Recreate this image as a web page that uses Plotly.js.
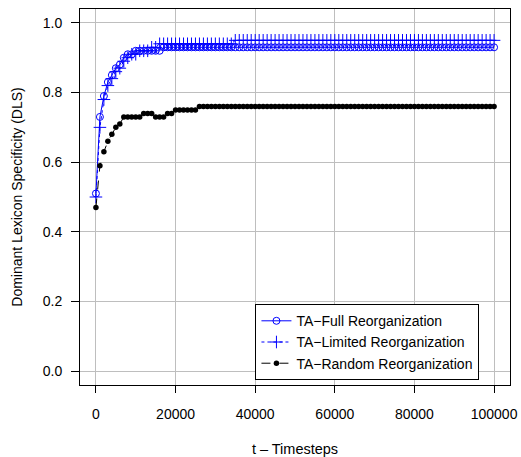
<!DOCTYPE html>
<html>
<head>
<meta charset="utf-8">
<script src="https://cdn.plot.ly/plotly-3.0.1.min.js"></script>
<style>html,body{margin:0;padding:0;background:#fff;}#chart{width:521px;height:457px;}</style>
</head>
<body>
<div id="chart"></div>
<script>
var timesteps = [
 0,1000,2000,3000,4000,5000,6000,7000,8000,9000,
 10000,11000,12000,13000,14000,15000,16000,17000,18000,19000,
 20000,21000,22000,23000,24000,25000,26000,27000,28000,29000,
 30000,31000,32000,33000,34000,35000,36000,37000,38000,39000,
 40000,41000,42000,43000,44000,45000,46000,47000,48000,49000,
 50000,51000,52000,53000,54000,55000,56000,57000,58000,59000,
 60000,61000,62000,63000,64000,65000,66000,67000,68000,69000,
 70000,71000,72000,73000,74000,75000,76000,77000,78000,79000,
 80000,81000,82000,83000,84000,85000,86000,87000,88000,89000,
 90000,91000,92000,93000,94000,95000,96000,97000,98000,99000,
 100000];

var fullReorg = [
 0.51,0.73,0.79,0.83,0.85,0.87,0.88,0.90,0.91,0.91,
 0.92,0.92,0.92,0.92,0.92,0.92,0.92,0.93,0.93,0.93,
 0.93,0.93,0.93,0.93,0.93,0.93,0.93,0.93,0.93,0.93,
 0.93,0.93,0.93,0.93,0.93,0.93,0.93,0.93,0.93,0.93,
 0.93,0.93,0.93,0.93,0.93,0.93,0.93,0.93,0.93,0.93,
 0.93,0.93,0.93,0.93,0.93,0.93,0.93,0.93,0.93,0.93,
 0.93,0.93,0.93,0.93,0.93,0.93,0.93,0.93,0.93,0.93,
 0.93,0.93,0.93,0.93,0.93,0.93,0.93,0.93,0.93,0.93,
 0.93,0.93,0.93,0.93,0.93,0.93,0.93,0.93,0.93,0.93,
 0.93,0.93,0.93,0.93,0.93,0.93,0.93,0.93,0.93,0.93,
 0.93];

var limitedReorg = [
 0.50,0.70,0.78,0.82,0.84,0.86,0.87,0.89,0.90,0.91,
 0.91,0.92,0.92,0.92,0.93,0.93,0.94,0.94,0.94,0.94,
 0.94,0.94,0.94,0.94,0.94,0.94,0.94,0.94,0.94,0.94,
 0.94,0.94,0.94,0.94,0.94,0.95,0.95,0.95,0.95,0.95,
 0.95,0.95,0.95,0.95,0.95,0.95,0.95,0.95,0.95,0.95,
 0.95,0.95,0.95,0.95,0.95,0.95,0.95,0.95,0.95,0.95,
 0.95,0.95,0.95,0.95,0.95,0.95,0.95,0.95,0.95,0.95,
 0.95,0.95,0.95,0.95,0.95,0.95,0.95,0.95,0.95,0.95,
 0.95,0.95,0.95,0.95,0.95,0.95,0.95,0.95,0.95,0.95,
 0.95,0.95,0.95,0.95,0.95,0.95,0.95,0.95,0.95,0.95,
 0.95];

var randomReorg = [
 0.47,0.59,0.63,0.66,0.68,0.70,0.71,0.73,0.73,0.73,
 0.73,0.73,0.74,0.74,0.74,0.73,0.73,0.73,0.74,0.74,
 0.75,0.75,0.75,0.75,0.75,0.75,0.76,0.76,0.76,0.76,
 0.76,0.76,0.76,0.76,0.76,0.76,0.76,0.76,0.76,0.76,
 0.76,0.76,0.76,0.76,0.76,0.76,0.76,0.76,0.76,0.76,
 0.76,0.76,0.76,0.76,0.76,0.76,0.76,0.76,0.76,0.76,
 0.76,0.76,0.76,0.76,0.76,0.76,0.76,0.76,0.76,0.76,
 0.76,0.76,0.76,0.76,0.76,0.76,0.76,0.76,0.76,0.76,
 0.76,0.76,0.76,0.76,0.76,0.76,0.76,0.76,0.76,0.76,
 0.76,0.76,0.76,0.76,0.76,0.76,0.76,0.76,0.76,0.76,
 0.76];

var seriesNames = ["TA\u2212Full Reorganization", "TA\u2212Limited Reorganization", "TA\u2212Random Reorganization"];
var xTicks = [0, 20000, 40000, 60000, 80000, 100000];
var yTicks = [0.0, 0.2, 0.4, 0.6, 0.8, 1.0];

var font = "Liberation Sans, Arial, sans-serif";

var traces = [
 {x: timesteps, y: fullReorg, name: seriesNames[0], type: "scatter", mode: "lines+markers",
  line: {color: "#0000ff", width: 1, dash: "solid"},
  marker: {symbol: "circle-open", size: 7, color: "#0000ff", line: {width: 1, color: "#0000ff"}}},
 {x: timesteps, y: limitedReorg, name: seriesNames[1], type: "scatter", mode: "lines+markers",
  line: {color: "#0000ff", width: 1, dash: "dot"},
  marker: {symbol: "cross-thin-open", size: 9, color: "#0000ff", line: {width: 1, color: "#0000ff"}}},
 {x: timesteps, y: randomReorg, name: seriesNames[2], type: "scatter", mode: "lines+markers",
  line: {color: "#000000", width: 1, dash: "dash"},
  marker: {symbol: "circle", size: 5.5, color: "#000000"}}
];

var layout = {
 width: 521, height: 457,
 margin: {l: 80, r: 11, t: 9, b: 72},
 paper_bgcolor: "#ffffff", plot_bgcolor: "#ffffff",
 font: {family: font, size: 14, color: "#000"},
 showlegend: true,
 legend: {x: 0.408, y: 0.1138, xanchor: "left", yanchor: "middle",
  bgcolor: "#ffffff", bordercolor: "#000000", borderwidth: 1,
  font: {family: font, size: 14, color: "#000"}, tracegroupgap: 0},
 xaxis: {
  range: [-4000, 104000], tickvals: xTicks, ticktext: xTicks.map(String),
  ticks: "outside", ticklen: 7, tickcolor: "#000", tickwidth: 1,
  showline: true, mirror: true, linecolor: "#000", linewidth: 1,
  showgrid: true, gridcolor: "#bebebe", gridwidth: 1, zeroline: false,
  ticklabelstandoff: 9, tickfont: {family: font, size: 14},
  title: {text: "t \u2013 Timesteps", font: {family: font, size: 14.5}, standoff: 25},
  automargin: false
 },
 yaxis: {
  range: [-0.04, 1.04], tickvals: yTicks, ticktext: yTicks.map(function(v){return v.toFixed(1);}),
  ticks: "outside", ticklen: 8, tickcolor: "#000", tickwidth: 1,
  showline: true, mirror: true, linecolor: "#000", linewidth: 1,
  showgrid: true, gridcolor: "#bebebe", gridwidth: 1, zeroline: false,
  ticklabelstandoff: 6, tickfont: {family: font, size: 14},
  title: {text: "Dominant Lexicon Specificity (DLS)", font: {family: font, size: 14}, standoff: 16},
  automargin: false
 }
};

Plotly.newPlot("chart", traces, layout, {displayModeBar: false, staticPlot: true});
</script>
</body>
</html>
